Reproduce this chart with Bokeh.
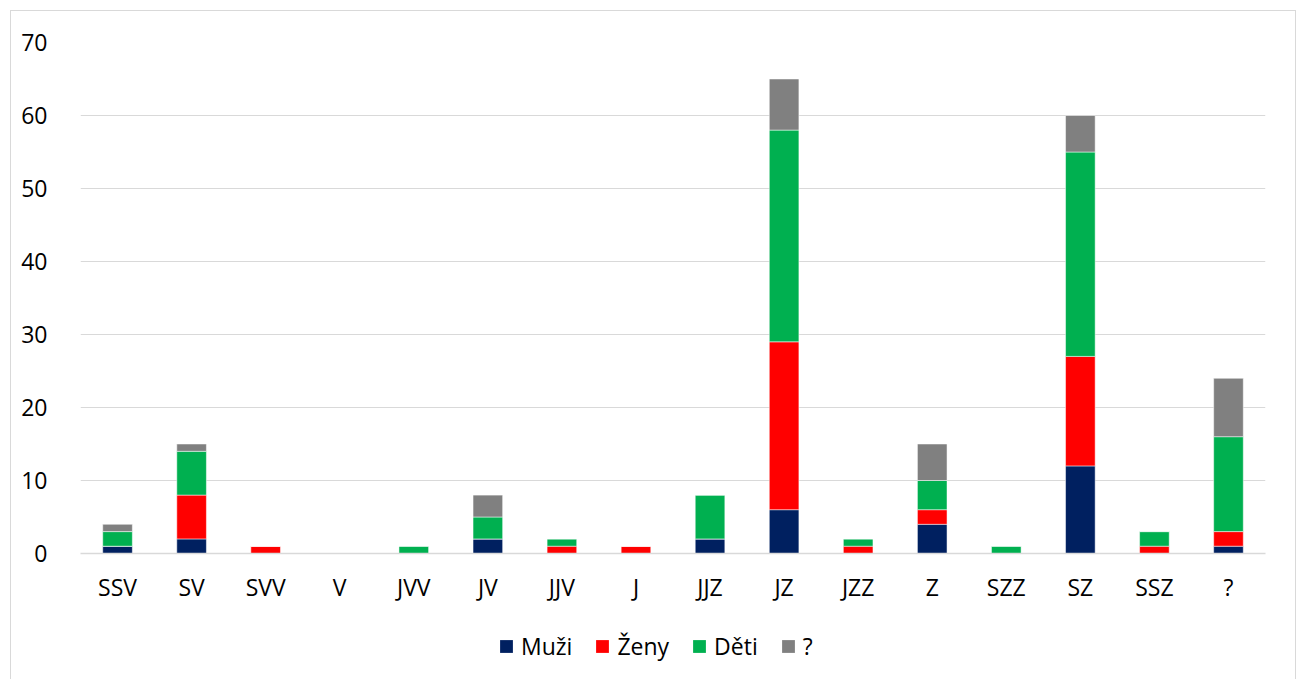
from bokeh.plotting import figure
from bokeh.layouts import column
from bokeh.models import ColumnDataSource, Legend, LegendItem, FixedTicker, Range1d
from bokeh.embed import file_html
from bokeh.resources import INLINE

categories = ["SSV", "SV", "SVV", "V", "JVV", "JV", "JJV", "J", "JJZ", "JZ", "JZZ", "Z", "SZZ", "SZ", "SSZ", "?"]
muzi = [1, 2, 0, 0, 0, 2, 0, 0, 2, 6, 0, 4, 0, 12, 0, 1]
zeny = [0, 6, 1, 0, 0, 0, 1, 1, 0, 23, 1, 2, 0, 15, 1, 2]
deti = [2, 6, 0, 0, 1, 3, 1, 0, 6, 29, 1, 4, 1, 28, 2, 13]
nezname = [1, 1, 0, 0, 0, 3, 0, 0, 0, 7, 0, 5, 0, 5, 0, 8]
series = ["Muži", "Ženy", "Děti", "?"]
colors = ["#002060", "#FF0000", "#00B050", "#808080"]
y_ticks = [0, 10, 20, 30, 40, 50, 60, 70]

FONT = "Open Sans"
FS = "23px"

source = ColumnDataSource(dict(cat=categories, m=muzi, z=zeny, d=deti, q=nezname))
cols = ["m", "z", "d", "q"]

p = figure(x_range=categories, y_range=Range1d(0, 70), width=1284, height=610,
           output_backend="svg", toolbar_location=None,
           min_border_left=69, min_border_right=30, min_border_top=31, min_border_bottom=68)
p.outline_line_color = None
p.border_fill_color = "white"
p.background_fill_color = "white"

p.vbar_stack(cols, x="cat", width=0.4, source=source,
             color=colors, line_color="white", line_width=0.5)

p.yaxis.ticker = FixedTicker(ticks=y_ticks)
p.yaxis.axis_line_color = None
p.yaxis.major_tick_line_color = None
p.yaxis.minor_tick_line_color = None
p.yaxis.major_label_text_font = FONT
p.yaxis.major_label_text_font_size = FS
p.yaxis.major_label_text_color = "#000000"
p.yaxis.major_label_standoff = 27

p.xaxis.axis_line_color = "#d9d9d9"
p.xaxis.axis_line_width = 1.5
p.xaxis.major_tick_line_color = None
p.xaxis.minor_tick_line_color = None
p.xaxis.major_label_text_font = FONT
p.xaxis.major_label_text_font_size = FS
p.xaxis.major_label_text_color = "#000000"
p.xaxis.major_label_standoff = 11

p.xgrid.grid_line_color = None
p.ygrid.grid_line_color = "#d9d9d9"
p.ygrid.grid_line_width = 1.2

# legend strip below the chart (its bars lie far outside the visible y range)
lf = figure(width=1284, height=58, output_backend="svg", toolbar_location=None,
            x_range=categories, y_range=Range1d(1000, 1001),
            x_axis_location=None, y_axis_location=None,
            min_border_left=0, min_border_right=0, min_border_top=0, min_border_bottom=0)
lf.grid.visible = False
lf.outline_line_color = None
lf.border_fill_color = "white"
lf.background_fill_color = "white"
items = []
for s, c, col in zip(series, colors, cols):
    r = lf.vbar(x="cat", top=col, width=0.4, source=source, fill_color=c, line_color=None)
    items.append(LegendItem(label=s, renderers=[r]))
legend = Legend(items=items, orientation="horizontal", location=(418, 17),
                label_text_font=FONT, label_text_font_size=FS,
                label_text_color="#000000",
                glyph_width=16, glyph_height=16, spacing=22, label_standoff=7,
                border_line_color=None, background_fill_alpha=0,
                margin=0, padding=0)
lf.add_layout(legend, "center")

layout = column(p, lf, spacing=0)
layout.styles = {"border": "1px solid #d9d9d9", "margin-left": "10px", "margin-top": "10px"}

html = file_html(layout, INLINE)
open("out.html", "w").write(html)
